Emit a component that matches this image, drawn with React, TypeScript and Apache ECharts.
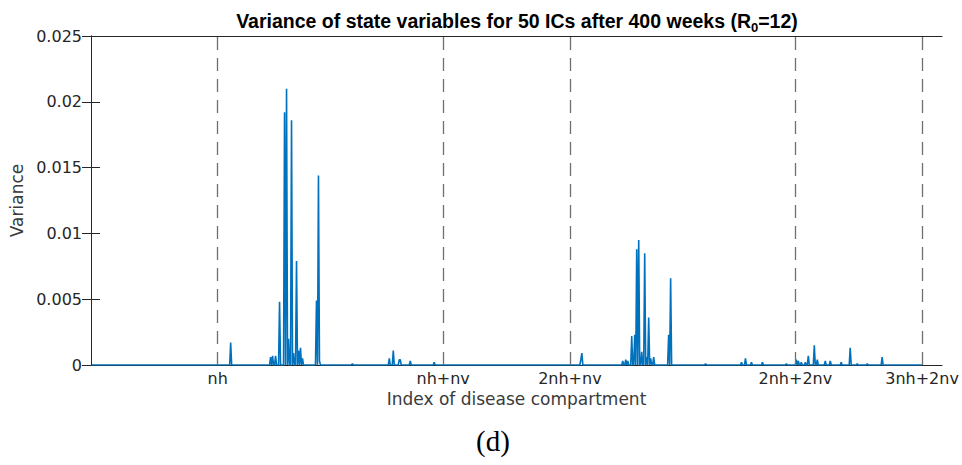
import React, { useEffect, useRef } from "react";
import * as echarts from "echarts";

// Compartment block sizes (x positions of the dashed separators)
const NH = 127;
const NV = 226;
const separatorPositions = [NH, NH + NV, 2 * NH + NV, 2 * NH + 2 * NV, 3 * NH + 2 * NV];
const separatorLabels = ["nh", "nh+nv", "2nh+nv", "2nh+2nv", "3nh+2nv"];
const yTicks = [0, 0.005, 0.01, 0.015, 0.02, 0.025];

// Non-zero variances (index of compartment, variance); all other compartments ~0
const spikeIndex = [
  140, 180, 182, 185, 189, 194, 196, 198, 201, 203, 206, 208, 210, 212, 226, 228, 229,
  262, 299, 303, 309, 310, 320, 344,
  491, 492, 533, 536, 538, 542, 545, 547, 549, 552, 555, 557, 559, 561, 564, 579, 581,
  616, 652, 656, 662, 673, 697,
  707, 709, 712, 716, 719, 725, 728, 736, 741, 752, 761, 768, 778, 793,
];
const spikeValue = [
  0.0017, 0.0006, 0.0007, 0.0007, 0.0048, 0.0192, 0.021, 0.002, 0.0186, 0.0009, 0.0079, 0.0011, 0.0013, 0.0005, 0.0049, 0.0144, 0.0003,
  0.0001, 0.0005, 0.0011, 0.0004, 0.0004, 0.0003, 0.0002,
  0.0004, 0.0009, 0.0003, 0.0004, 0.0003, 0.0022, 0.0023, 0.0088, 0.0095, 0.001, 0.0085, 0.0006, 0.0036, 0.0005, 0.0006, 0.0023, 0.0066,
  0.0001, 0.0002, 0.0005, 0.0002, 0.0002, 0.0001,
  0.0004, 0.0003, 0.0002, 0.0002, 0.0007, 0.0015, 0.0004, 0.0003, 0.0003, 0.0002, 0.0013, 0.0001, 0.0001, 0.0006,
];

const TICK_FONT = "'DejaVu Sans', sans-serif";
const AXIS_COLOR = "#262626";

export default function App() {
  const ref = useRef<HTMLDivElement>(null);

  useEffect(() => {
    if (!ref.current) return;
    const chart = echarts.init(ref.current, undefined, { renderer: "svg" });

    const total = 3 * NH + 2 * NV;
    const values: number[] = new Array(total).fill(0);
    spikeIndex.forEach((idx, k) => {
      values[idx - 1] = spikeValue[k];
    });
    const lineData = values.map((v, k) => [k + 1, v]);

    const labelMap: Record<number, string> = {};
    separatorPositions.forEach((p, k) => (labelMap[p] = separatorLabels[k]));

    const yFmt = (v: number) => (v === 0 ? "0" : String(+v.toFixed(3)));

    chart.setOption({
      animation: false,
      backgroundColor: "#ffffff",
      title: {
        text: "Variance of state variables for 50 ICs after 400 weeks (R{sub|0}=12)",
        left: 512,
        textAlign: "center",
        top: 3,
        textStyle: {
          fontFamily: "'Liberation Sans', Arial, sans-serif",
          fontWeight: "bold",
          fontSize: 19.5,
          color: "#000000",
          lineHeight: 26,
          rich: {
            sub: {
              fontFamily: "'Liberation Sans', Arial, sans-serif",
              fontWeight: "bold",
              fontSize: 13,
              lineHeight: 13,
              verticalAlign: "bottom",
              color: "#000000",
            },
          },
        },
      },
      grid: { left: 91, right: 20, top: 36, bottom: 100, show: false },
      xAxis: [
        {
          type: "value",
          min: 0,
          max: 853,
          position: "bottom",
          axisLine: { show: true, onZero: false, lineStyle: { color: AXIS_COLOR, width: 1 } },
          axisTick: { show: false },
          splitLine: { show: false },
          axisLabel: {
            customValues: separatorPositions,
            formatter: (v: number) => labelMap[v] ?? "",
            fontFamily: TICK_FONT,
            fontSize: 16,
            color: AXIS_COLOR,
            margin: 5,
          },
          name: "Index of disease compartment",
          nameLocation: "middle",
          nameGap: 25,
          nameTextStyle: { fontFamily: TICK_FONT, fontSize: 17, color: "#3a3a3a" },
        },
        {
          type: "value",
          min: 0,
          max: 853,
          position: "top",
          axisLine: { show: true, onZero: false, lineStyle: { color: AXIS_COLOR, width: 1 } },
          axisTick: { show: false },
          axisLabel: { show: false },
          splitLine: { show: false },
        },
      ],
      yAxis: [
        {
          type: "value",
          min: 0,
          max: 0.025,
          interval: 0.005,
          position: "left",
          axisLine: { show: true, lineStyle: { color: AXIS_COLOR, width: 1 } },
          axisTick: { show: true, inside: true, length: 9, lineStyle: { color: AXIS_COLOR } },
          splitLine: { show: false },
          axisLabel: {
            formatter: yFmt,
            fontFamily: TICK_FONT,
            fontSize: 16,
            color: AXIS_COLOR,
            margin: 9,
          },
          name: "Variance",
          nameLocation: "middle",
          nameGap: 56,
          nameTextStyle: { fontFamily: TICK_FONT, fontSize: 17, color: "#3a3a3a" },
        },
        {
          type: "value",
          min: 0,
          max: 0.025,
          interval: 0.005,
          position: "right",
          axisLine: { show: true, lineStyle: { color: AXIS_COLOR, width: 1 } },
          axisTick: { show: true, inside: true, length: 9, lineStyle: { color: AXIS_COLOR } },
          splitLine: { show: false },
          axisLabel: { show: false },
        },
      ],
      series: [
        {
          type: "line",
          xAxisIndex: 0,
          yAxisIndex: 0,
          data: lineData,
          showSymbol: false,
          symbol: "none",
          lineStyle: { color: "#0072BD", width: 1.6 },
          z: 3,
          markLine: {
            silent: true,
            symbol: ["none", "none"],
            label: { show: false },
            lineStyle: { color: "#6f6f6f", type: [13, 8], width: 1.3 },
            emphasis: { disabled: true },
            data: separatorPositions.map((p) => ({ xAxis: p })),
          },
        },
      ],
      graphic: [
        {
          type: "text",
          x: 493,
          y: 441,
          style: {
            text: "(d)",
            fontFamily: "'Liberation Serif', 'DejaVu Serif', serif",
            fontSize: 29,
            fill: "#000000",
            align: "center",
            verticalAlign: "middle",
          },
        },
      ],
    });

    return () => chart.dispose();
  }, []);

  return (
    <div
      ref={ref}
      style={{ position: "absolute", left: 0, top: 0, width: 962, height: 465, background: "#fff" }}
    />
  );
}
